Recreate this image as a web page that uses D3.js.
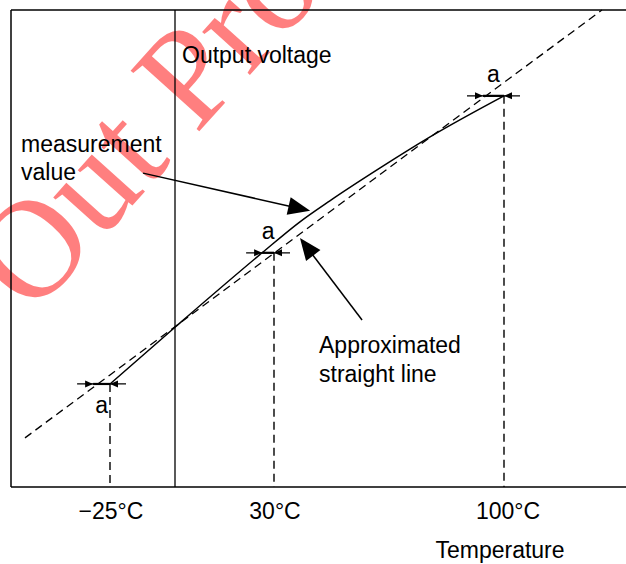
<!DOCTYPE html>
<html>
<head>
<meta charset="utf-8">
<script src="https://cdn.jsdelivr.net/npm/d3@7"></script>
<style>
  html, body { margin: 0; padding: 0; background: #fff; }
  svg { display: block; }
  text { font-family: "Liberation Sans", Arial, Helvetica, sans-serif; }
</style>
</head>
<body>
<div id="chart"></div>
<script>
// ---------- data ----------
const tickTemps = [-25, 30, 100];
const tickLabels = ["\u221225\u00B0C", "30\u00B0C", "100\u00B0C"];
const xBreaks = [-25, 0, 30, 100];

// measurement curve (temperature in °C, output voltage in arbitrary %)
const curveTemp = [-25, 0, 26.4, 37.9, 47, 62.3, 77.5, 100];
const curveVolt = [21.6, 33.5, 49.1, 55.6, 60.0, 66.9, 73.4, 82.0];

// approximated straight line
const lineTemp = [-57.7, -25, 30, 100, 129.8];
const lineVolt = [10.3, 23.5, 49.0, 84.8, 100];

// deviation markers "a"
const markerTemp  = [-25, 30, 100];
const markerVolt  = [21.6, 49.1, 82.0];
const markerLineT = [-31.5, 30, 93.6];
const markerCurveT = [-25, 26.4, 100];
const markerLabelPos = ["below", "above", "above"];

// annotation arrows: [tailT, tailV, tipT, tipV]
const measArrow = [-12.3, 65.8, 41.0, 57.9];
const approxArrow = [56.8, 35.0, 37.9, 52.2];

// ---------- layout ----------
(function () {
const W = 626, H = 564, FS = 23;
const svg = d3.select("#chart").append("svg").attr("width", W).attr("height", H);

const x = d3.scaleLinear().domain(xBreaks).range([110, 175, 274, 504]);
const y = d3.scaleLinear().domain([0, 100]).range([487, 10]);

const fLeft = 11, fRight = W, fTop = y(100), fBottom = y(0);

// watermark
svg.append("text")
  .attr("transform", "translate(32,317) rotate(-48)")
  .attr("font-size", 140)
  .attr("fill", "rgb(255,0,0)")
  .attr("fill-opacity", 0.5)
  .style("font-family", "'Liberation Serif', 'DejaVu Serif', serif")
  .text("Out Pro");

// frame
const g = svg.append("g").attr("fill", "none").attr("stroke", "#000");
g.append("line").attr("x1", fLeft).attr("x2", fLeft).attr("y1", fTop).attr("y2", fBottom).attr("stroke-width", 1.5);
g.append("line").attr("x1", fLeft).attr("x2", fRight).attr("y1", fTop).attr("y2", fTop).attr("stroke-width", 1.5);
g.append("line").attr("x1", fLeft).attr("x2", fRight).attr("y1", fBottom).attr("y2", fBottom).attr("stroke-width", 1.5);
// y axis (0 °C)
g.append("line").attr("x1", x(0)).attr("x2", x(0)).attr("y1", fTop).attr("y2", fBottom).attr("stroke-width", 1.3);

// approximated straight line (dashed)
const lineData = lineTemp.map((t, i) => [t, lineVolt[i]]);
g.append("path")
  .attr("d", d3.line().x(d => x(d[0])).y(d => y(d[1]))(lineData))
  .attr("stroke-width", 1.3)
  .attr("stroke-dasharray", "8,5");

// measurement curve
const curveData = curveTemp.map((t, i) => [t, curveVolt[i]]);
g.append("path")
  .attr("d", d3.line().x(d => x(d[0])).y(d => y(d[1])).curve(d3.curveMonotoneX)(curveData))
  .attr("stroke-width", 1.5);

// vertical dashed drops
markerTemp.forEach((t, i) => {
  g.append("line")
    .attr("x1", x(t)).attr("x2", x(t))
    .attr("y1", y(markerVolt[i])).attr("y2", fBottom)
    .attr("stroke-width", 1.4)
    .attr("stroke-dasharray", "8,5");
});

function arrowHead(tipX, tipY, dirX, dirY, len, half) {
  const n = Math.hypot(dirX, dirY); const ux = dirX / n, uy = dirY / n;
  const bx = tipX - ux * len, by = tipY - uy * len;
  return [[tipX, tipY], [bx - uy * half, by + ux * half], [bx + uy * half, by - ux * half]];
}

// deviation markers
markerTemp.forEach((t, i) => {
  const yy = y(markerVolt[i]);
  const xa = Math.min(x(markerLineT[i]), x(markerCurveT[i]));
  const xb = Math.max(x(markerLineT[i]), x(markerCurveT[i]));
  g.append("line").attr("x1", xa - 16).attr("x2", xb + 16).attr("y1", yy).attr("y2", yy).attr("stroke-width", 1.3);
  g.append("line").attr("x1", xa).attr("x2", xb).attr("y1", yy).attr("y2", yy).attr("stroke-width", 2.2);
  svg.append("polygon").attr("points", arrowHead(xa, yy, 1, 0, 8, 3.5).join(" ")).attr("fill", "#000");
  svg.append("polygon").attr("points", arrowHead(xb, yy, -1, 0, 8, 3.5).join(" ")).attr("fill", "#000");
  svg.append("text")
    .attr("x", (xa + xb) / 2)
    .attr("y", markerLabelPos[i] === "above" ? yy - 14 : yy + 29)
    .attr("text-anchor", "middle")
    .attr("font-size", FS)
    .text("a");
});

// annotation arrows
[measArrow, approxArrow].forEach(a => {
  const tx = x(a[0]), ty = y(a[1]), hx = x(a[2]), hy = y(a[3]);
  const len = 22;
  const n = Math.hypot(hx - tx, hy - ty);
  g.append("line").attr("x1", tx).attr("y1", ty)
    .attr("x2", hx - (hx - tx) / n * (len - 2)).attr("y2", hy - (hy - ty) / n * (len - 2))
    .attr("stroke-width", 1.5);
  svg.append("polygon").attr("points", arrowHead(hx, hy, hx - tx, hy - ty, len, 9).join(" ")).attr("fill", "#000");
});

// tick labels
svg.selectAll(".tick").data(tickTemps).enter().append("text")
  .attr("class", "tick")
  .attr("x", (d, i) => x(d) + (i === 2 ? 4 : 1))
  .attr("y", 519)
  .attr("text-anchor", "middle")
  .attr("font-size", FS)
  .text((d, i) => tickLabels[i]);

// texts
svg.append("text").attr("x", 500).attr("y", 558).attr("text-anchor", "middle").attr("font-size", FS).text("Temperature");
svg.append("text").attr("x", 182).attr("y", 63).attr("font-size", FS).text("Output voltage");
svg.append("text").attr("x", 21).attr("y", 152).attr("font-size", FS).text("measurement");
svg.append("text").attr("x", 21).attr("y", 180).attr("font-size", FS).text("value");
svg.append("text").attr("x", 319).attr("y", 353).attr("font-size", FS).text("Approximated");
svg.append("text").attr("x", 319).attr("y", 382).attr("font-size", FS).text("straight line");
})();
</script>
</body>
</html>
